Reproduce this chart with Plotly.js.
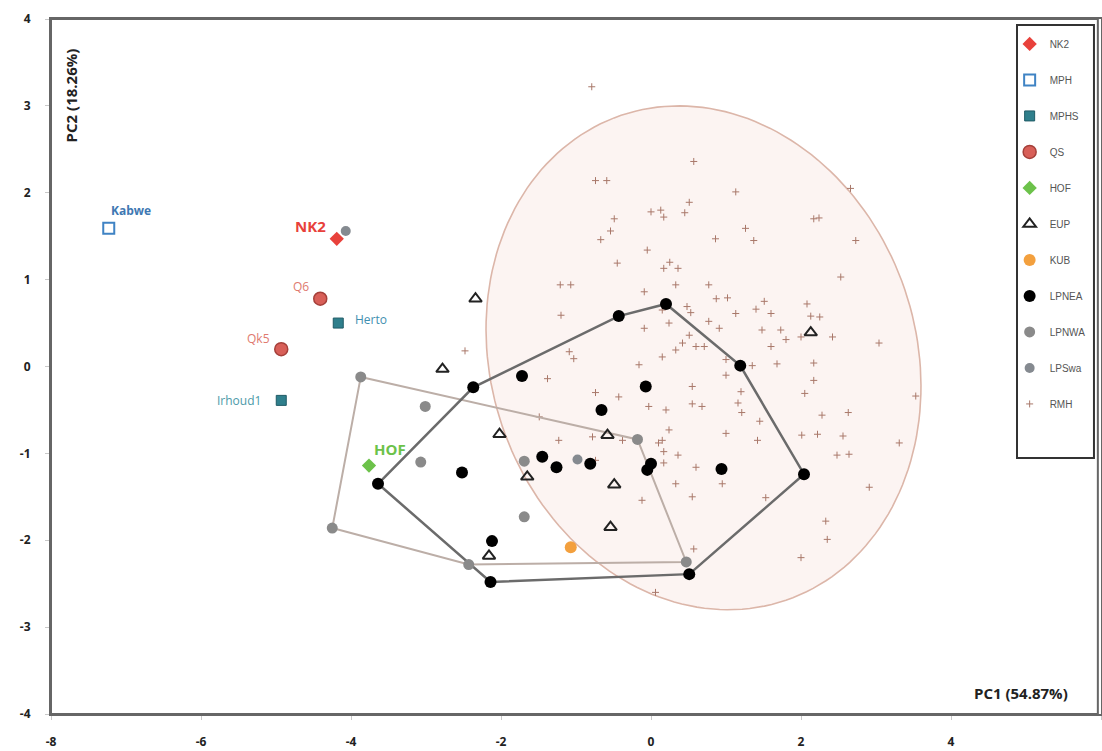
<!DOCTYPE html>
<html>
<head>
<meta charset="utf-8">
<script src="https://cdn.plot.ly/plotly-3.0.1.min.js"></script>
<style>html,body{margin:0;padding:0;background:#fff;}#chart{width:1102px;height:751px;}</style>
</head>
<body>
<div id="chart"></div>
<script>
// ---------- data ----------
const xTickVals = [-8, -6, -4, -2, 0, 2, 4, 6];
const xTickText = ['-8', '-6', '-4', '-2', '0', '2', '4', '6'];
const yTickVals = [-4, -3, -2, -1, 0, 1, 2, 3, 4];
const yTickText = ['-4', '-3', '-2', '-1', '0', '1', '2', '3', '4'];

const nk2X = [-4.19], nk2Y = [1.47], nk2Names = ['NK2'];
const mphX = [-7.23], mphY = [1.59], mphNames = ['Kabwe'];
const mphsX = [-4.17, -4.93], mphsY = [0.50, -0.39], mphsNames = ['Herto', 'Irhoud1'];
const qsX = [-4.41, -4.93], qsY = [0.78, 0.20], qsNames = ['Q6', 'Qk5'];
const hofX = [-3.76], hofY = [-1.14], hofNames = ['HOF'];

const eupX = [-2.34, -2.78, -2.02, -0.58, -1.65, -0.49, -0.54, -2.16, 2.13];
const eupY = [0.78, -0.03, -0.78, -0.79, -1.27, -1.36, -1.85, -2.18, 0.39];

const kubX = [-1.07], kubY = [-2.08];

const lpneaX = [-3.64, -2.37, -1.72, -0.43, 0.20, -0.07, -0.66, -1.45, -1.26, -0.81, 0.00, -0.05, 0.94, -2.52, -2.12, -2.14, 0.51, 1.19, 2.04];
const lpneaY = [-1.35, -0.24, -0.11, 0.58, 0.72, -0.23, -0.50, -1.04, -1.16, -1.12, -1.12, -1.19, -1.18, -1.22, -2.01, -2.48, -2.39, 0.01, -1.24];

const lpnwaX = [-3.87, -3.01, -3.07, -4.25, -2.43, -1.69, -1.69, -0.18, 0.47];
const lpnwaY = [-0.12, -0.46, -1.10, -1.86, -2.28, -1.09, -1.73, -0.84, -2.25];

const lpswaX = [-4.07, -0.98];
const lpswaY = [1.56, -1.07];

const rmhX = [-0.79, 0.57, -0.74, -0.59, 1.13, 0.51, 0.00, 0.13, 0.17, 0.45, -0.49, -0.54, -0.67, 1.26, 1.37, 0.86,
  -0.05, -0.45, 0.25, 0.17, 0.36, 0.77, -1.21, -1.07, -0.09, 0.87, 1.02, 1.51, 1.40, -1.20, 0.48, 2.17, 0.33, 1.60,
  2.08, 1.13, 0.53, 2.66, 2.24, 2.73, 2.53, 2.13, 2.25, 0.77, 0.91, 1.48, 1.73, 1.80, 2.42, 2.00, 3.04, 0.71, 1.60,
  1.35, 1.68, 2.17, 1.00, 2.17, 1.20, 2.05, 3.53, 0.55, 1.16, 1.21, 1.45, 2.28, 2.63, 0.24, 1.00, 1.42, 2.01, 2.22,
  2.56, 3.31, 0.10, 0.17, 0.36, 2.48, 2.64, 0.17, 1.53, 2.91, 2.33, 2.35, 2.00, 0.57, 0.06, -2.48, -1.09, -1.03,
  -1.38, -0.74, -0.43, -0.16, -0.09, 0.15, 0.33, 0.42, 0.51, 0.60, 0.15, 0.24, 1.00, 0.55, 0.68, 0.20, -0.03, -1.49,
  -1.23, -0.74, 0.15, 0.60, 0.33, -0.12, 0.55, -0.78, -0.38, 0.95];
const rmhY = [3.22, 2.36, 2.14, 2.14, 2.01, 1.89, 1.78, 1.80, 1.72, 1.77, 1.70, 1.56, 1.46, 1.59, 1.45, 1.47,
  1.34, 1.19, 1.20, 1.13, 1.13, 0.94, 0.94, 0.94, 0.86, 0.78, 0.79, 0.75, 0.66, 0.59, 0.69, 1.70, 0.94, 0.61,
  0.72, 0.61, 0.62, 2.05, 1.71, 1.45, 1.03, 0.58, 0.57, 0.52, 0.44, 0.42, 0.42, 0.31, 0.34, 0.34, 0.27, 0.23, 0.23,
  0.01, 0.03, 0.04, -0.10, -0.16, -0.29, -0.31, -0.34, -0.43, -0.42, -0.53, -0.63, -0.56, -0.53, -0.73, -0.77, -0.85, -0.79, -0.78,
  -0.80, -0.88, -0.88, -0.98, -1.02, -1.02, -1.01, -1.11, -1.51, -1.39, -1.78, -1.99, -2.20, -2.10, -2.60, 0.18, 0.17, 0.09,
  -0.14, -0.30, -0.35, 0.02, 0.44, 0.11, 0.19, 0.27, 0.36, 0.23, 0.65, 0.50, 0.08, -0.23, -0.46, -0.50, -0.46, -0.58,
  -0.85, -1.08, -0.85, -1.16, -1.35, -1.54, -1.50, -0.81, -0.85, -1.35];

// RMH confidence ellipse parameters (data units)
const rmhEllipse = { cx: 0.70, cy: 0.10, a: 3.06, b: 2.73, angleDeg: -45 };

// ---------- helpers ----------
function convexHull(xs, ys) {
  const pts = xs.map((x, i) => [x, ys[i]]).sort((p, q) => p[0] - q[0] || p[1] - q[1]);
  const cross = (o, a, b) => (a[0] - o[0]) * (b[1] - o[1]) - (a[1] - o[1]) * (b[0] - o[0]);
  const lower = [];
  for (const p of pts) { while (lower.length >= 2 && cross(lower[lower.length - 2], lower[lower.length - 1], p) <= 0) lower.pop(); lower.push(p); }
  const upper = [];
  for (let i = pts.length - 1; i >= 0; i--) { const p = pts[i]; while (upper.length >= 2 && cross(upper[upper.length - 2], upper[upper.length - 1], p) <= 0) upper.pop(); upper.push(p); }
  const hull = lower.slice(0, -1).concat(upper.slice(0, -1));
  hull.push(hull[0]);
  return { x: hull.map(p => p[0]), y: hull.map(p => p[1]) };
}
function ellipsePath(e) {
  const phi = e.angleDeg * Math.PI / 180, xs = [], ys = [];
  for (let i = 0; i <= 180; i++) {
    const t = i / 180 * 2 * Math.PI;
    xs.push(e.cx + e.a * Math.cos(t) * Math.cos(phi) - e.b * Math.sin(t) * Math.sin(phi));
    ys.push(e.cy + e.a * Math.cos(t) * Math.sin(phi) + e.b * Math.sin(t) * Math.cos(phi));
  }
  return { x: xs, y: ys };
}

const ell = ellipsePath(rmhEllipse);
const hullNEA = convexHull(lpneaX, lpneaY);
const hullNWA = convexHull(lpnwaX, lpnwaY);

function pts(name, x, y, marker, rank) {
  return { type: 'scatter', mode: 'markers', name: name, x: x, y: y, marker: marker,
    legendgroup: name, legendrank: rank, hoverinfo: 'x+y+name' };
}

const traces = [
  { type: 'scatter', mode: 'lines', x: ell.x, y: ell.y, fill: 'toself', fillcolor: 'rgba(246,222,214,0.32)',
    line: { color: '#dcb6a9', width: 1.6 }, showlegend: false, hoverinfo: 'skip' },
  pts('RMH', rmhX, rmhY, { symbol: 'cross-thin', size: 5, line: { color: '#a9786a', width: 1 } }, 11),
  { type: 'scatter', mode: 'lines', x: hullNWA.x, y: hullNWA.y, line: { color: '#bcaea7', width: 2 }, showlegend: false, hoverinfo: 'skip' },
  { type: 'scatter', mode: 'lines', x: hullNEA.x, y: hullNEA.y, line: { color: '#6b6b6b', width: 2.5 }, showlegend: false, hoverinfo: 'skip' },
  pts('LPNWA', lpnwaX, lpnwaY, { symbol: 'circle', size: 11, color: '#8a8a8a' }, 9),
  pts('LPSwa', lpswaX, lpswaY, { symbol: 'circle', size: 10, color: '#858a90' }, 10),
  pts('LPNEA', lpneaX, lpneaY, { symbol: 'circle', size: 12, color: '#000000' }, 8),
  pts('EUP', eupX, eupY, { symbol: 'triangle-up-open', size: 11, color: '#222222', line: { width: 2 } }, 6),
  pts('KUB', kubX, kubY, { symbol: 'circle', size: 12, color: '#f3a03e' }, 7),
  pts('HOF', hofX, hofY, { symbol: 'diamond', size: 11, color: '#6cc24a' }, 5),
  pts('QS', qsX, qsY, { symbol: 'circle', size: 13, color: '#d85f58', line: { color: '#a5403a', width: 1.5 } }, 4),
  pts('MPHS', mphsX, mphsY, { symbol: 'square', size: 10, color: '#2f7f8c', line: { color: '#1f5b66', width: 1 } }, 3),
  pts('MPH', mphX, mphY, { symbol: 'square-open', size: 11, color: '#3f83c4', line: { width: 2 } }, 2),
  pts('NK2', nk2X, nk2Y, { symbol: 'diamond', size: 11, color: '#e8413b' }, 1)
];

// specimen labels
const labelStyle = {
  'Kabwe':   { dx: 22, dy: 18, color: '#3e78b2', size: 12, bold: true },
  'NK2':     { dx: -26, dy: 13, color: '#e8413b', size: 15, bold: true },
  'Q6':      { dx: -19, dy: 12, color: '#e07a6f', size: 12, bold: false },
  'Herto':   { dx: 33, dy: 4, color: '#3f8fb0', size: 12, bold: false },
  'Qk5':     { dx: -23, dy: 11, color: '#e07a6f', size: 12, bold: false },
  'Irhoud1': { dx: -42, dy: 0, color: '#4c9aa8', size: 12, bold: false },
  'HOF':     { dx: 21, dy: 17, color: '#6cc24a', size: 15, bold: true }
};
const labelled = [
  [mphNames, mphX, mphY], [nk2Names, nk2X, nk2Y], [qsNames, qsX, qsY], [mphsNames, mphsX, mphsY], [hofNames, hofX, hofY]
];
const annotations = [];
labelled.forEach(([names, xs, ys]) => names.forEach((n, i) => {
  const s = labelStyle[n];
  annotations.push({ x: xs[i], y: ys[i], xref: 'x', yref: 'y', text: n, showarrow: false,
    xshift: s.dx, yshift: s.dy, font: { family: 'Open Sans', size: s.size, color: s.color, weight: s.bold ? 'bold' : 'normal' } });
}));
annotations.push({ xref: 'paper', yref: 'paper', x: 0.019, y: 0.89, xanchor: 'center', yanchor: 'middle',
  text: 'PC2 (18.26%)', textangle: -90, showarrow: false,
  font: { family: 'Open Sans', size: 15, color: '#222', weight: 'bold' } });
annotations.push({ xref: 'paper', yref: 'paper', x: 0.924, y: 0.030, xanchor: 'center', yanchor: 'middle',
  text: 'PC1 (54.87%)', showarrow: false,
  font: { family: 'Open Sans', size: 15, color: '#222', weight: 'bold' } });

const axisCommon = {
  showgrid: false, zeroline: false, showline: true, linecolor: '#666', linewidth: 2, mirror: true,
  ticks: 'outside', ticklen: 4, tickcolor: '#c8c8c8', tickwidth: 1,
  tickfont: { family: 'Open Sans', size: 12, color: '#222', weight: 'bold' }, ticklabelstandoff: 12
};

const layout = {
  width: 1102, height: 751,
  margin: { l: 51, r: 1, t: 19, b: 37 },
  paper_bgcolor: '#ffffff', plot_bgcolor: '#ffffff',
  xaxis: Object.assign({}, axisCommon, { range: [-8, 6], tickmode: 'array', tickvals: xTickVals, ticktext: xTickText }),
  yaxis: Object.assign({}, axisCommon, { range: [-4, 4], tickmode: 'array', tickvals: yTickVals, ticktext: yTickText }),
  showlegend: true,
  legend: { x: 0.913, y: 0.985, xanchor: 'left', yanchor: 'top', bgcolor: 'rgba(0,0,0,0)', borderwidth: 0,
    traceorder: 'grouped', tracegroupgap: 17, font: { family: 'Liberation Sans', size: 10, color: '#555' } },
  shapes: [
    { type: 'rect', xref: 'paper', yref: 'paper', x0: 0, x1: 0.997, y0: 0, y1: 1,
      line: { color: '#666', width: 2 }, fillcolor: 'rgba(0,0,0,0)', layer: 'below' },
    { type: 'rect', xref: 'paper', yref: 'paper', x0: 0.920, x1: 0.9933, y0: 0.3683, y1: 0.9914,
      line: { color: '#333', width: 2 }, fillcolor: '#ffffff', layer: 'below' }],
  annotations: annotations
};

Plotly.newPlot('chart', traces, layout, { displayModeBar: false, staticPlot: true });
</script>
</body>
</html>
